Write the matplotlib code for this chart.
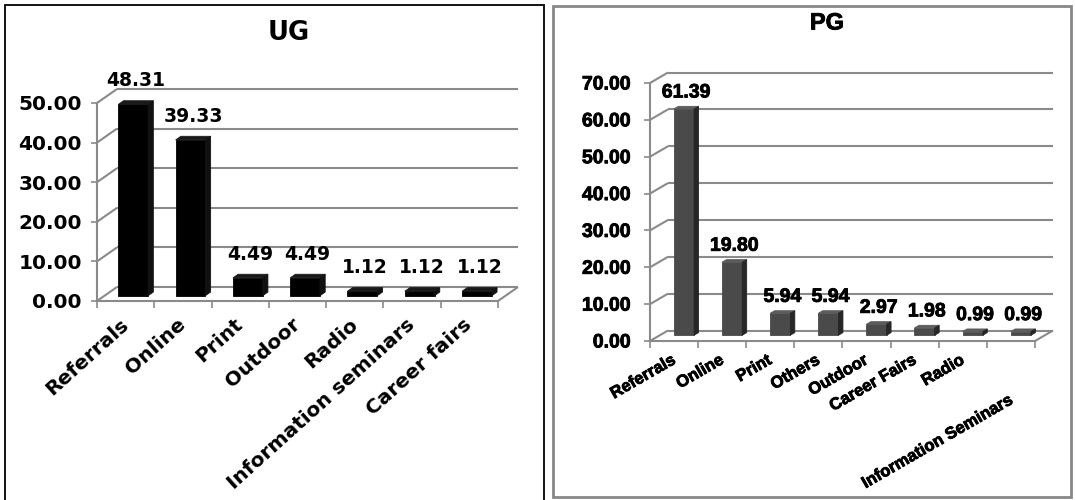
import numpy as np
import matplotlib
matplotlib.use('Agg')
import matplotlib.pyplot as plt
from matplotlib.patches import Polygon, Rectangle
from matplotlib import patheffects

# survey results: share of respondents by recruitment channel
ug_labels = ['Referrals', 'Online', 'Print', 'Outdoor', 'Radio',
             'Information seminars', 'Career fairs']
ug_values = [48.31, 39.33, 4.49, 4.49, 1.12, 1.12, 1.12]
ug_ticks = [0, 10, 20, 30, 40, 50]

pg_labels = ['Referrals', 'Online', 'Print', 'Others', 'Outdoor',
             'Career Fairs', 'Radio', 'Information Seminars']
pg_values = [61.39, 19.80, 5.94, 5.94, 2.97, 1.98, 0.99, 0.99]
pg_ticks = [0, 10, 20, 30, 40, 50, 60, 70]

W, H = 1075, 500
fig = plt.figure(figsize=(W / 100, H / 100), dpi=100)

GRID = '#8a8a8a'


def px_box(x0, y0, x1, y1):
    # pixel box (top-left origin) -> figure fraction rect
    return [x0 / W, 1 - y1 / H, (x1 - x0) / W, (y1 - y0) / H]


def frame(x0, y0, x1, y1, color, lw):
    fig.add_artist(Rectangle((x0 / W, 1 - y1 / H), (x1 - x0) / W, (y1 - y0) / H,
                             transform=fig.transFigure, fill=False,
                             edgecolor=color, linewidth=lw))


def panel(box, labels, values, ticks, depth, bar, colors, font, sizes,
          rot, xpad, ypad, lab_off, fx=None, drop=None):
    ax = fig.add_axes(px_box(*box))
    n = len(labels)
    top = ticks[-1]
    ax.set_xlim(0, n)
    ax.set_ylim(0, top)
    ax.patch.set_visible(False)
    tkw = dict(fontfamily=font, fontweight='bold', path_effects=fx)
    drop = drop or {}

    # depth offset of the back wall, converted from pixels to data units
    ddx = depth[0] / ((box[2] - box[0]) / n)
    ddy = depth[1] / ((box[3] - box[1]) / top)

    kw = dict(color=GRID, lw=1.5, clip_on=False, zorder=1, solid_capstyle='butt')
    for t in ticks:
        ax.plot([ddx, n + ddx], [t + ddy, t + ddy], **kw)
        ax.plot([0, ddx], [t, t + ddy], **kw)
    ax.plot([n, n + ddx], [0, ddy], **kw)

    for s in ['top', 'right']:
        ax.spines[s].set_visible(False)
    for s in ['left', 'bottom']:
        ax.spines[s].set_color(GRID)
        ax.spines[s].set_linewidth(1.5)

    ax.set_yticks(ticks)
    ax.set_yticklabels([f'{t:.2f}' for t in ticks], fontsize=sizes[0], **tkw)
    ax.tick_params(axis='y', length=4, width=1.2, color=GRID, pad=ypad)

    # category boundaries get the tick marks, names hang below each column
    x = np.arange(n) + 0.5
    ax.set_xticks(np.arange(n + 1))
    ax.set_xticklabels([])
    ax.tick_params(axis='x', length=5, width=1.2, color=GRID)
    for i, name in enumerate(labels):
        ax.annotate(name, xy=(x[i], 0), xycoords=('data', 'axes fraction'),
                    xytext=(0, -(xpad + drop.get(i, 0))), textcoords='offset points',
                    rotation=rot, ha='right', va='center', rotation_mode='anchor',
                    fontsize=sizes[1], annotation_clip=False, **tkw)

    # columns: front face, top face and right side face
    f1, f2, w = bar
    ox1, oy1 = f1 * ddx, f1 * ddy
    sx, sy = (f2 - f1) * ddx, (f2 - f1) * ddy
    ax.bar(x + ox1, values, width=w, bottom=oy1, color=colors[0],
           edgecolor=colors[0], linewidth=0.6, zorder=3, clip_on=False)
    for xi, v in zip(x, values):
        l, r = xi + ox1 - w / 2, xi + ox1 + w / 2
        t = v + oy1
        ax.add_patch(Polygon([(l, t), (r, t), (r + sx, t + sy), (l + sx, t + sy)],
                             closed=True, facecolor=colors[2], edgecolor=colors[2],
                             lw=0.6, zorder=3, clip_on=False))
        ax.add_patch(Polygon([(r, oy1), (r + sx, oy1 + sy), (r + sx, t + sy), (r, t)],
                             closed=True, facecolor=colors[1], edgecolor=colors[1],
                             lw=0.6, zorder=3, clip_on=False))
        ax.annotate(f'{v:.2f}', xy=(xi + ox1 + sx / 2, t), xytext=(0, lab_off),
                    textcoords='offset points', ha='center', va='center',
                    fontsize=sizes[2], annotation_clip=False, zorder=4, **tkw)


# UG panel
frame(5, 5, 544, 520, 'black', 1.3)
panel((97, 103, 498, 301), ug_labels, ug_values, ug_ticks, depth=(20, 14),
      bar=(0.38, 0.64, 0.52), colors=('black', '#111111', '#1a1a1a'),
      font='DejaVu Sans', sizes=(14.5, 14.5, 13.5), rot=42, xpad=15, ypad=7,
      lab_off=17)
fig.text(289 / W, 1 - 33 / H, 'UG', ha='center', va='center',
         fontfamily='DejaVu Sans', fontweight='bold', fontsize=18.5)

# PG panel: heavier strokes for the Arial-like face
heavy = [patheffects.withStroke(linewidth=0.6, foreground='black')]
frame(553, 6, 1071, 497, '#888888', 2)
panel((650, 83, 1035, 341), pg_labels, pg_values, pg_ticks, depth=(18, 10.5),
      bar=(0.55, 0.8, 0.42), colors=('#4a4a4a', '#262626', '#5c5c5c'),
      font='Liberation Sans', sizes=(14, 12, 14), rot=30, xpad=13, ypad=10,
      lab_off=11.5, fx=heavy, drop={7: 29})
fig.text(827 / W, 1 - 23 / H, 'PG', ha='center', va='center',
         fontfamily='Liberation Sans', fontweight='bold', fontsize=17,
         path_effects=heavy)

fig.savefig('out.png', dpi=100)
